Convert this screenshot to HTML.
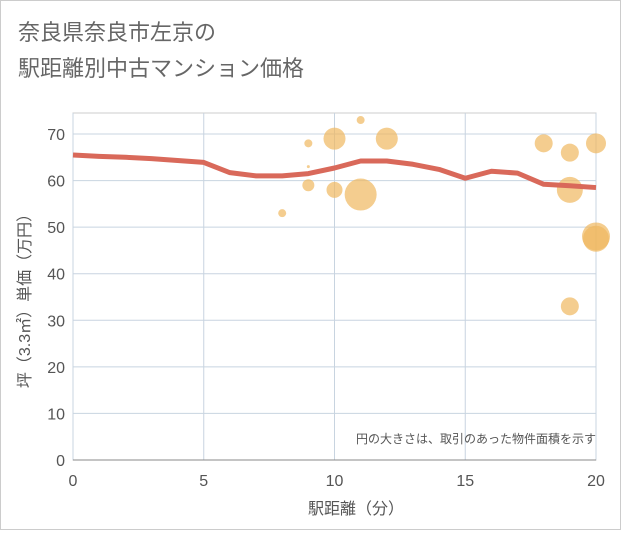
<!DOCTYPE html>
<html><head><meta charset="utf-8">
<style>
body{margin:0;background:#fff;}
#wrap{width:621px;height:530px;position:relative;font-family:"Liberation Sans","Noto Sans CJK JP",sans-serif;}
svg text{font-family:"Liberation Sans","Noto Sans CJK JP",sans-serif;}
</style></head>
<body>
<div id="wrap">
<svg id="chart" width="621" height="530">
<rect x="0.5" y="0.5" width="620" height="529" fill="#fff" stroke="#ccc"/>
<text x="18" y="40" font-size="22" fill="#666">奈良県奈良市左京の</text>
<text x="18" y="76" font-size="22" fill="#666">駅距離別中古マンション価格</text>
<g id="grid"></g><g id="bubbles"></g><g id="line"></g><g id="axes"></g>
<text x="596" y="443" font-size="12" fill="#555" text-anchor="end">円の大きさは、取引のあった物件面積を示す</text>
<text x="356" y="514" font-size="16" fill="#555" text-anchor="middle">駅距離（分）</text>
<text transform="translate(30,297) rotate(-90)" font-size="16" fill="#555" text-anchor="middle">坪（3.3㎡）単価（万円）</text>
</svg>
</div>
<script>
const xTicks=[0,5,10,15,20];
const yTicks=[0,10,20,30,40,50,60,70];
const lineX=[0,1,2,3,4,5,6,7,8,9,10,11,12,13,14,15,16,17,18,19,20];
const lineY=[65.5,65.2,65,64.7,64.3,63.9,61.7,61,61,61.5,62.7,64.2,64.2,63.5,62.4,60.5,62,61.6,59.2,58.9,58.5];
const bubbleX=[8,9,9,9,10,10,11,11,12,18,19,19,19,20,20,20];
const bubbleY=[53,68,63,59,69,58,73,57,69,68,66,58,33,68,48,47.5];
const bubbleR=[4,4,1.5,6,11,8,4,16,11,9,9,13,9,10,14,13];
const L=73,R=596,T=113,B=460;
const sx=v=>L+(v-0)/20*(R-L);
const sy=v=>B-v/70*326;
const NS="http://www.w3.org/2000/svg";
function mk(t,a,p){const e=document.createElementNS(NS,t);for(const k in a)e.setAttribute(k,a[k]);p.appendChild(e);return e;}
const grid=document.getElementById('grid'),axes=document.getElementById('axes');
mk('rect',{x:L,y:T,width:R-L,height:B-T,fill:'none',stroke:'#ccc'},grid);
xTicks.forEach(v=>{
 const g=mk('line',{x1:sx(v),x2:sx(v),y1:T,y2:B,stroke:'#c8d4e0'},grid);
 
 
 const t=mk('text',{x:sx(v),y:B+26,'font-size':16,fill:'#555','text-anchor':'middle'},axes);
 t.textContent=v;
 
 
});
yTicks.forEach(v=>{
 const g=mk('line',{x1:L,x2:R,y1:sy(v),y2:sy(v),stroke:'#c8d4e0'},grid);
 
 
 const t=mk('text',{x:L-8,y:sy(v)+6,'font-size':16,fill:'#555','text-anchor':'end'},axes);
 t.textContent=v;
 
 
});
mk('line',{x1:L,x2:R,y1:B,y2:B,stroke:'#888'},axes);
const bg=document.getElementById('bubbles');
bubbleX.forEach((x,i)=>{
 const c=mk('circle',{cx:sx(x),cy:sy(bubbleY[i]),r:bubbleR[i],fill:'#f0b860','fill-opacity':0.7},bg);
 
 
});
const p=mk('polyline',{points:lineX.map((x,i)=>sx(x)+','+sy(lineY[i])).join(' '),fill:'none',stroke:'#d9695a','stroke-width':5,'stroke-linejoin':'round'},document.getElementById('line'));


</script>
</body></html>
